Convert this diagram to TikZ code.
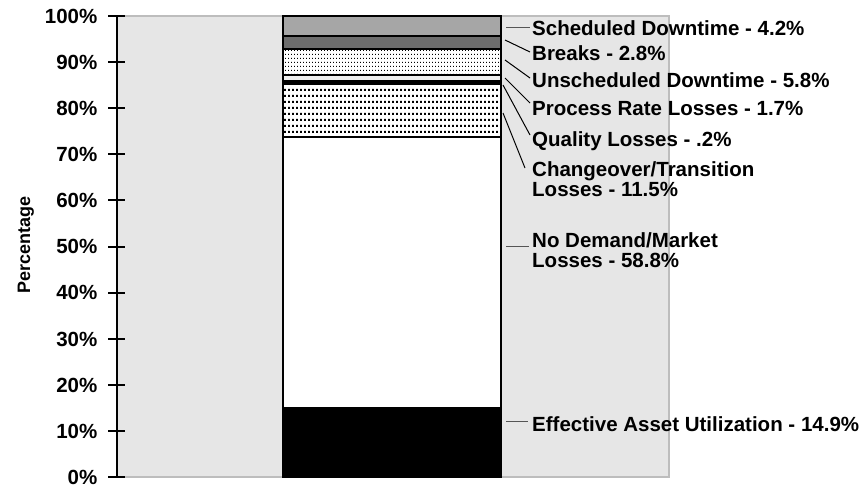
\documentclass[tikz,border=0pt]{standalone}
\usepackage{fontspec}
\setmainfont{Liberation Sans}
\usetikzlibrary{patterns}

\definecolor{plotbg}{HTML}{E6E6E6}
\definecolor{plotedge}{HTML}{BDBDBD}
\definecolor{midseg}{HTML}{A6A6A6}
\definecolor{darkseg}{HTML}{6D6D6D}
\definecolor{lightseg}{HTML}{EFEFEF}
\definecolor{leadgray}{HTML}{555555}

% small dots in close rows
\pgfdeclarepatternformonly{finedots}{\pgfpointorigin}{\pgfpoint{3pt}{4pt}}{\pgfpoint{3pt}{4pt}}{%
  \pgfpathrectangle{\pgfpointorigin}{\pgfpoint{1.3pt}{1.3pt}}\pgfusepath{fill}}
% larger dots in wider rows
\pgfdeclarepatternformonly{coarsedots}{\pgfpointorigin}{\pgfpoint{4pt}{6pt}}{\pgfpoint{4pt}{6pt}}{%
  \pgfpathrectangle{\pgfpointorigin}{\pgfpoint{2.2pt}{2.4pt}}\pgfusepath{fill}}

\begin{document}
\begin{tikzpicture}[x=1pt,y=-1pt,
  font=\bfseries\fontsize{20.5}{20.5}\selectfont,
  seg/.style={draw=black, line width=2pt},
  lead/.style={line width=1pt, black},
  grlead/.style={line width=1pt, leadgray},
  lab/.style={anchor=base west, inner sep=0pt, align=left},
  ticklab/.style={anchor=base east, inner sep=0pt}]
\useasboundingbox (0,0) rectangle (865,487);

% plot area
\draw[fill=plotbg, draw=plotedge, line width=1.5pt] (117,16) rectangle (669,477);

% stacked bar, bottom to top
\draw[seg, fill=black] (283,477) rectangle (501,408.3);
\draw[seg, fill=white] (283,408.3) rectangle (501,137.2);
\draw[seg, preaction={fill=white}, pattern=coarsedots] (283,137.2) rectangle (501,84.2);
\draw[seg, fill=black] (283,84.2) rectangle (501,81.5);
\draw[seg, fill=lightseg] (283,81.5) rectangle (501,75.5);
\draw[seg, preaction={fill=white}, pattern=finedots] (283,75.5) rectangle (501,48.7);
\draw[seg, fill=darkseg] (283,48.7) rectangle (501,35.8);
\draw[seg, fill=midseg] (283,35.8) rectangle (501,16.5);

% value axis
\draw[line width=2pt] (116.5,16) -- (116.5,477);
\foreach \k in {0,...,10} {
  \pgfmathsetmacro{\ty}{477-46.1*\k}
  \draw[line width=2pt] (108,\ty) -- (125,\ty);
  \pgfmathtruncatemacro{\pc}{10*\k}
  \node[ticklab] (tick\k) at (97.5,\ty+7.3) {\pc\%};
}
\node[anchor=base, rotate=90, inner sep=0pt, font=\bfseries\fontsize{18}{18}\selectfont]
  (ylab) at (30,245) {Percentage};

% segment labels (two-line labels are placed by their last baseline)
\node[lab] (lsched) at (532,35.7) {Scheduled Downtime - 4.2\%};
\node[lab] (lbreak) at (532,60) {Breaks - 2.8\%};
\node[lab] (lunsch) at (532,87.7) {Unscheduled Downtime - 5.8\%};
\node[lab] (lrate) at (532,115) {Process Rate Losses - 1.7\%};
\node[lab] (lqual) at (532,146.5) {Quality Losses - .2\%};
\node[lab] (lchange) at (532,196.7) {Changeover/Transition\\Losses - 11.5\%};
\node[lab] (ldemand) at (532,267.5) {No Demand/Market\\Losses - 58.8\%};
\node[lab] (leau) at (532,431.7) {Effective Asset Utilization - 14.9\%};

% leader ends
\coordinate (ssched) at (506,28);   \coordinate (esched) at (530,28);
\coordinate (sbreak) at (505,40);   \coordinate (ebreak) at (530,52);
\coordinate (sunsch) at (505,60);   \coordinate (eunsch) at (530,78);
\coordinate (srate) at (505,78);    \coordinate (erate) at (530,103);
\coordinate (squal) at (503,85);    \coordinate (equal) at (530,135);
\coordinate (schange) at (503,113); \coordinate (echange) at (525,168);
\coordinate (sdemand) at (506,246); \coordinate (edemand) at (529,246);
\coordinate (seau) at (506,421);    \coordinate (eeau) at (528,421);

\draw[grlead] (ssched) -- (esched);
\draw[lead] (sbreak) -- (ebreak);
\draw[lead] (sunsch) -- (eunsch);
\draw[lead] (srate) -- (erate);
\draw[lead] (squal) -- (equal);
\draw[lead] (schange) -- (echange);
\draw[grlead] (sdemand) -- (edemand);
\draw[grlead] (seau) -- (eeau);
\end{tikzpicture}
\end{document}
